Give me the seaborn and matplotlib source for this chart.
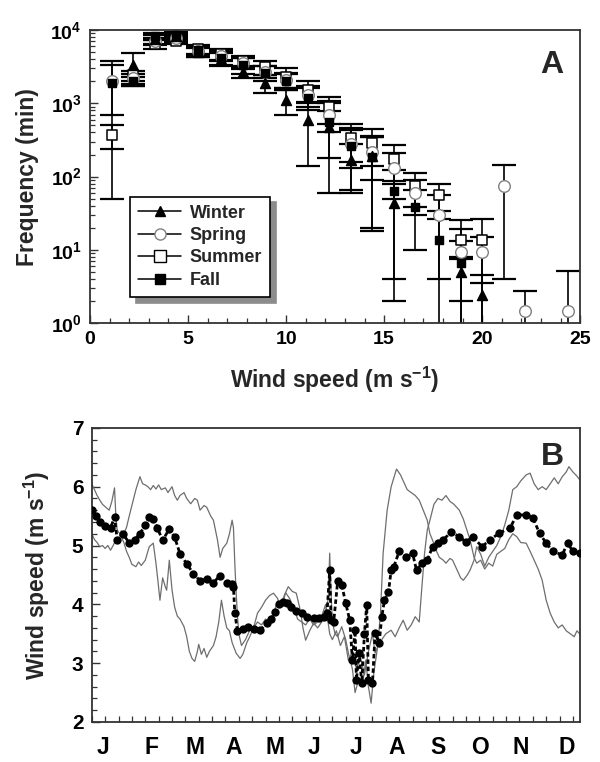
import numpy as np
import pandas as pd
import matplotlib
matplotlib.use("Agg")
import matplotlib.pyplot as plt
from matplotlib.lines import Line2D
from matplotlib.ticker import LogLocator, NullFormatter, FixedLocator, MultipleLocator, FixedFormatter
import seaborn as sns

# ---------------- data: wind-speed frequency distribution by season ----------------
speed_bins = [1.1, 2.2, 3.3, 4.4, 5.5, 6.7, 7.8, 8.9, 10.0, 11.1, 12.2,
              13.3, 14.4, 15.5, 16.6, 17.8, 18.9, 20.0, 21.1, 22.2, 23.3, 24.4]
nan = np.nan
winter = [nan, 3300, 7500, 8200, 5000, 4000, 2700, 1900, 1100, 590, 480,
          170, 190, 44, nan, nan, 5.0, 2.4, nan, nan, nan, nan]
winter_sd = [nan, 1600, 1000, 1000, 700, 800, 500, 500, 400, 450, 300,
             105, 172, 42, nan, nan, 3.0, 2.2, nan, nan, nan, nan]
spring = [2000, 2200, 7000, 7800, 5200, 4500, 3500, 2700, 2100, 1300, 700,
          280, 220, 130, 60, 30, 9.3, 9.3, 74, 1.45, nan, 1.45]
spring_sd = [1300, 350, 800, 900, 900, 700, 600, 500, 500, 400, 300,
             150, 130, 80, 30, 26, 16.5, 5.8, 70, 1.25, nan, 3.65]
summer = [370, 2400, 6500, 7200, 5500, 4700, 3800, 3100, 2300, 1500, 880,
          340, 290, 175, 75, 56, 13.5, 13.5, nan, nan, nan, nan]
summer_sd = [130, 400, 900, 800, 800, 800, 700, 700, 700, 500, 350,
             180, 150, 95, 37, 22, 6.0, 12.8, nan, nan, nan, nan]
fall = [1900, 2000, 8200, 8500, 5300, 4200, 3300, 2600, 2000, 1200, 560,
        260, 185, 64, 38, 13.5, 6.6, nan, nan, nan, nan, nan]
fall_sd = [1850, 300, 900, 900, 800, 900, 800, 600, 500, 400, 500,
           200, 165, 60, 28, 13, 6.4, nan, nan, nan, nan, nan]

freq_ticks = [1, 10, 100, 1000, 10000]
freq_ticklabels = [r"$10^{0}$", r"$10^{1}$", r"$10^{2}$", r"$10^{3}$", r"$10^{4}$"]

# ---------------- data: annual cycle of daily wind speed ----------------
mean_day = [0, 3, 6, 10, 14, 17, 19, 23, 28, 32, 36, 40, 43, 46, 49, 53, 58, 62, 66,
            71, 76, 81, 86, 91, 96, 101, 105, 106, 107, 109, 113, 117, 121, 126, 131,
            134, 137, 140, 143, 146, 149, 153, 157, 161, 166, 170, 174, 176, 178, 179,
            181, 184, 187, 190, 193, 195, 197, 198, 200, 202, 204, 205.7, 207, 210,
            212, 215, 217, 219, 222, 224, 226, 230, 235, 240, 243, 247, 251, 255, 259,
            263, 269, 275, 280, 285, 292, 298, 305, 313, 318, 325, 330, 335, 340, 345,
            352, 356, 360, 365]
mean_speed = [5.6, 5.5, 5.4, 5.34, 5.3, 5.48, 5.1, 5.2, 5.05, 5.1, 5.2, 5.35, 5.48,
              5.45, 5.3, 5.09, 5.28, 5.14, 4.86, 4.69, 4.52, 4.4, 4.43, 4.37, 4.49, 4.37,
              4.35, 4.3, 3.85, 3.55, 3.58, 3.62, 3.58, 3.56, 3.68, 3.75, 3.87, 4.0, 4.04,
              4.02, 3.95, 3.88, 3.85, 3.78, 3.77, 3.77, 3.79, 3.85, 4.58, 3.73, 3.7, 4.4,
              4.33, 4.02, 3.73, 3.05, 3.56, 2.71, 3.17, 2.66, 3.5, 3.99, 2.71, 2.66, 3.51,
              3.34, 3.79, 4.07, 4.21, 4.58, 4.64, 4.9, 4.8, 4.87, 4.58, 4.7, 4.75, 4.98,
              5.05, 5.1, 5.23, 5.15, 5.06, 5.15, 4.98, 5.1, 5.21, 5.3, 5.52, 5.52, 5.47,
              5.21, 5.04, 4.9, 4.84, 5.04, 4.9, 4.87]

year1_day = [0, 2, 4, 6, 8, 10, 13, 15, 17, 18, 19, 21, 24, 26, 28, 30, 33, 35, 37, 40,
             43, 46, 48, 49, 51, 53, 55, 56, 58, 60, 62, 64, 66, 69, 71, 73, 75, 77, 79,
             80, 82, 84, 86, 88, 91, 93, 95, 97, 99, 101, 103, 105, 108, 111, 113, 116,
             118, 121, 124, 127, 130, 133, 136, 139, 141, 144, 147, 150, 153, 156, 158,
             160, 163, 166, 169, 172, 175, 177, 178, 179, 180, 182, 184, 187, 190, 192,
             195, 197, 200, 203, 205, 207, 209, 211, 214, 216, 218, 221, 224, 228, 231,
             234, 236, 239, 242, 245, 248, 251, 253, 255, 258, 260, 263, 265, 268, 270,
             273, 276, 278, 281, 283, 286, 288, 291, 294, 297, 300, 303, 306, 309, 312,
             315, 318, 321, 325, 328, 331, 334, 337, 340, 343, 346, 349, 352, 355, 357,
             360, 363, 365]
year1_speed = [6.05, 5.95, 5.85, 5.77, 5.7, 5.66, 5.6, 5.75, 5.98, 5.5, 5.26, 5.2, 5.05,
               4.9, 4.8, 4.68, 4.64, 4.72, 4.66, 4.75, 4.98, 5.04, 4.7, 4.5, 4.07, 4.45,
               4.3, 4.24, 4.75, 4.25, 3.95, 3.8, 3.75, 3.62, 3.45, 3.2, 3.08, 3.03, 3.2,
               3.32, 3.15, 3.25, 3.1, 3.2, 3.3, 3.45, 3.7, 4.07, 3.8, 3.6, 3.55, 3.35,
               3.17, 3.08, 3.15, 3.35, 3.44, 3.6, 3.85, 3.95, 4.07, 4.15, 4.19, 4.1, 3.95,
               4.15, 4.3, 4.22, 4.19, 3.9, 3.6, 3.39, 3.55, 3.68, 3.6, 3.7, 3.9, 4.1, 4.87,
               4.2, 3.7, 3.5, 3.45, 3.62, 3.4, 3.17, 2.9, 2.5, 2.75, 2.71, 3.05, 2.6, 2.32,
               2.83, 3.3, 3.85, 4.87, 5.6, 6.0, 6.3, 6.2, 6.05, 5.95, 5.9, 5.85, 5.77, 5.6,
               5.43, 5.2, 5.09, 4.9, 4.8, 4.75, 4.7, 4.78, 4.75, 4.6, 4.45, 4.41, 4.5,
               4.58, 4.75, 4.98, 4.85, 4.65, 4.8, 4.9, 5.0, 5.15, 5.35, 5.6, 5.95, 6.0,
               6.1, 6.2, 6.23, 6.05, 5.95, 6.0, 5.95, 6.05, 6.15, 6.05, 6.17, 6.25, 6.34,
               6.25, 6.18, 6.12]

year2_day = [0, 2, 4, 6, 8, 10, 12, 14, 16, 18, 20, 22, 24, 26, 28, 31, 33, 36, 38, 40,
             42, 44, 46, 48, 50, 52, 55, 57, 60, 62, 64, 66, 69, 71, 74, 77, 79, 81, 84,
             86, 89, 91, 94, 96, 98, 101, 103, 105, 106, 107, 108, 109, 110, 112, 115,
             118, 121, 124, 127, 130, 133, 136, 139, 142, 145, 148, 151, 154, 157, 160,
             163, 166, 169, 172, 175, 178, 180, 183, 186, 189, 192, 195, 198, 201, 204,
             207, 210, 212, 214, 217, 220, 224, 227, 230, 233, 236, 239, 242, 245, 247,
             249, 251, 253, 256, 259, 262, 265, 268, 271, 275, 278, 280, 283, 286, 288,
             291, 294, 297, 300, 303, 306, 309, 312, 315, 318, 321, 325, 328, 331, 334,
             337, 340, 343, 346, 349, 352, 355, 358, 361, 363, 365]
year2_speed = [5.2, 5.1, 5.05, 4.98, 5.0, 4.95, 5.0, 4.92, 5.0, 5.1, 5.05, 5.25, 5.2,
               5.31, 5.5, 5.77, 5.95, 6.17, 6.05, 6.03, 6.0, 5.95, 6.02, 5.96, 6.03, 5.95,
               5.98, 5.9, 6.0, 5.85, 5.77, 5.85, 5.9, 5.8, 5.71, 5.8, 5.77, 5.6, 5.68,
               5.65, 5.5, 5.43, 5.1, 4.8, 4.95, 5.04, 5.2, 5.43, 5.3, 4.7, 4.2, 3.8, 3.5,
               3.3, 3.4, 3.55, 3.6, 3.7, 3.65, 3.75, 3.7, 3.85, 4.05, 3.95, 4.2, 4.1, 3.95,
               3.75, 3.7, 3.65, 3.75, 3.65, 3.7, 3.8, 4.0, 3.5, 3.4, 3.55, 3.3, 3.45, 3.05,
               3.2, 2.9, 3.1, 2.8, 3.2, 3.5, 3.17, 3.28, 3.4, 3.5, 3.56, 3.45, 3.6, 3.73,
               3.56, 3.65, 3.79, 3.7, 4.3, 4.87, 5.26, 5.43, 5.7, 5.8, 5.77, 5.85, 5.75,
               5.7, 5.6, 5.45, 5.31, 5.1, 4.8, 4.7, 4.75, 4.6, 4.7, 4.65, 4.85, 4.9, 4.95,
               5.1, 5.2, 5.15, 5.05, 5.04, 4.9, 4.75, 4.6, 4.41, 4.07, 3.85, 3.7, 3.6,
               3.65, 3.55, 3.5, 3.45, 3.55, 3.5]

month_pos = [8.6, 44.9, 77.0, 106.2, 136.9, 166.0, 197.5, 228.1, 258.8, 290.2, 320.9, 355.3]
month_labels = ["J", "F", "M", "A", "M", "J", "J", "A", "S", "O", "N", "D"]

# ---------------- style ----------------
sns.set_theme(style="ticks")
plt.rcParams.update({
    "font.family": ["Liberation Sans", "DejaVu Sans"],
    "font.weight": "bold",
    "axes.labelweight": "bold",
    "mathtext.fontset": "custom",
    "mathtext.rm": "Liberation Sans:bold",
    "mathtext.bf": "Liberation Sans:bold",
    "mathtext.it": "Liberation Sans:bold",
    "mathtext.default": "bf",
    "axes.edgecolor": "#333333",
    "axes.linewidth": 1.3,
    "xtick.direction": "in",
    "ytick.direction": "in",
    "xtick.color": "#333333",
    "ytick.color": "#333333",
    "xtick.labelcolor": "black",
    "ytick.labelcolor": "black",
})

fig = plt.figure(figsize=(6.0, 7.62), dpi=100)
axA = fig.add_axes([0.150, 0.576, 0.817, 0.3845])
axB = fig.add_axes([0.153, 0.0525, 0.813, 0.386])

# ---------------- panel A ----------------
seasons = [
    ("Summer", summer, summer_sd, dict(marker="s", fc="white", ec="black", s=62, lw=1.1)),
    ("Spring", spring, spring_sd, dict(marker="o", fc="white", ec="#808080", s=70, lw=1.0)),
    ("Fall", fall, fall_sd, dict(marker="s", fc="black", ec="black", s=40, lw=1.0)),
    ("Winter", winter, winter_sd, dict(marker="^", fc="black", ec="black", s=52, lw=1.0)),
]
x = np.array(speed_bins)
for name, vals, sds, st in seasons:
    v = np.array(vals, dtype=float)
    sd = np.array(sds, dtype=float)
    lower = np.minimum(sd, v * 0.995)
    axA.errorbar(x, v, yerr=[lower, sd], fmt="none", ecolor="black",
                 elinewidth=1.2, capsize=8.6, capthick=1.6, zorder=2)
for i, (name, vals, sds, st) in enumerate(seasons):
    df = pd.DataFrame({"speed": x, "freq": vals}).dropna()
    sns.scatterplot(data=df, x="speed", y="freq", marker=st["marker"], s=st["s"],
                    color=st["ec"], facecolor=st["fc"], edgecolor=st["ec"],
                    linewidth=st["lw"], ax=axA, zorder=3 + i, legend=False)

axA.set_yscale("log")
axA.set_xlim(0, 25)
axA.set_ylim(1, 10000)
axA.yaxis.set_major_locator(FixedLocator(freq_ticks))
axA.yaxis.set_major_formatter(FixedFormatter(freq_ticklabels))
axA.yaxis.set_minor_locator(LogLocator(base=10, subs=np.arange(2, 10), numticks=20))
axA.yaxis.set_minor_formatter(NullFormatter())
axA.xaxis.set_major_locator(MultipleLocator(5))
axA.xaxis.set_minor_locator(MultipleLocator(1))
axA.tick_params(axis="both", which="major", length=6, width=1.0, labelsize=14, pad=6)
axA.tick_params(axis="both", which="minor", length=3.5, width=0.9)
axA.set_xlabel(r"Wind speed (m s$^{-1}$)", fontsize=16.5, labelpad=12)
axA.set_ylabel("Frequency (min)", fontsize=16.5, labelpad=8)
axA.text(0.941, 0.88, "A", transform=axA.transAxes, fontsize=23, fontweight="bold",
         ha="center", va="center")

legend_order = [("Winter", dict(marker="^", mfc="black", mec="black", ms=7.5)),
                ("Spring", dict(marker="o", mfc="white", mec="#808080", ms=8)),
                ("Summer", dict(marker="s", mfc="white", mec="black", ms=8)),
                ("Fall", dict(marker="s", mfc="black", mec="black", ms=6.5))]
handles = [Line2D([0], [0], color="black", lw=1.1, **kw) for _, kw in legend_order]
leg = axA.legend(handles, [n for n, _ in legend_order], loc="lower left",
                 bbox_to_anchor=(0.0816, 0.089), borderaxespad=0.0, frameon=True,
                 fancybox=False, edgecolor="black", framealpha=1.0, fontsize=13,
                 handlelength=2.4, handletextpad=0.45, labelspacing=0.3,
                 borderpad=0.45,
                 shadow={"ox": 4, "oy": -4, "color": "#8c8c8c", "alpha": 1.0})
leg.get_frame().set_linewidth(1.2)
for t in leg.get_texts():
    t.set_fontweight("bold")

# ---------------- panel B ----------------
dB1 = pd.DataFrame({"day": year1_day, "speed": year1_speed})
dB2 = pd.DataFrame({"day": year2_day, "speed": year2_speed})
dBm = pd.DataFrame({"day": mean_day, "speed": mean_speed})
sns.lineplot(data=dB1, x="day", y="speed", color="#6e6e6e", lw=0.9, ax=axB,
             estimator=None, sort=False, zorder=2)
sns.lineplot(data=dB2, x="day", y="speed", color="#6e6e6e", lw=0.9, ax=axB,
             estimator=None, sort=False, zorder=2)
sns.lineplot(data=dBm, x="day", y="speed", color="black", lw=2.0,
             linestyle=(0, (1.6, 1.0)), marker="o", markersize=6,
             markeredgewidth=0, ax=axB, estimator=None, sort=False, zorder=3)

axB.set_xlim(0, 365)
axB.set_ylim(2, 7)
axB.yaxis.set_major_locator(MultipleLocator(1))
axB.yaxis.set_minor_locator(MultipleLocator(0.2))
axB.xaxis.set_major_locator(FixedLocator(month_pos))
axB.xaxis.set_major_formatter(FixedFormatter(month_labels))
axB.xaxis.set_minor_locator(MultipleLocator(10))
axB.tick_params(axis="x", which="major", length=0, labelsize=16.5, pad=10)
axB.tick_params(axis="x", which="minor", length=4, width=0.9)
axB.tick_params(axis="y", which="major", length=6, width=1.0, labelsize=15, pad=6)
axB.tick_params(axis="y", which="minor", length=3.5, width=0.9)
axB.set_xlabel("")
axB.set_ylabel(r"Wind speed (m s$^{-1}$)", fontsize=16.5, labelpad=14)
axB.text(0.945, 0.90, "B", transform=axB.transAxes, fontsize=23, fontweight="bold",
         ha="center", va="center")

for ax in (axA, axB):
    for lab in ax.get_xticklabels() + ax.get_yticklabels():
        lab.set_fontweight("bold")

fig.savefig("out.png", dpi=100, facecolor="white")
